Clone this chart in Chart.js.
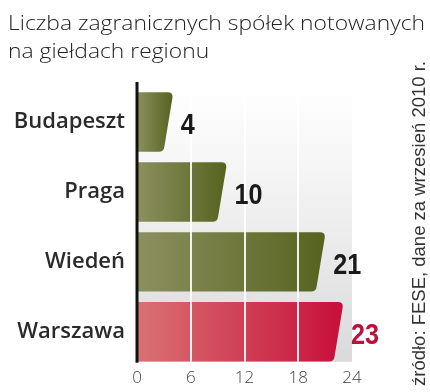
<!DOCTYPE html>
<html>
<head>
<meta charset="utf-8">
<script src="https://cdn.jsdelivr.net/npm/chart.js@4.4.0/dist/chart.umd.min.js"></script>
<style>
  html, body { margin: 0; padding: 0; background: #fff; }
  #wrap { width: 430px; height: 392px; }
</style>
</head>
<body>
<div id="wrap"><canvas id="chart" width="430" height="392"></canvas></div>
<script>
// dane
const categories = ['Budapeszt', 'Praga', 'Wiedeń', 'Warszawa'];
const values = [4, 10, 21, 23];
const highlight = [false, false, false, true];
const tickValues = [0, 6, 12, 18, 24];
const titleLines = ['Liczba zagranicznych spółek notowanych', 'na giełdach regionu'];
const sourceText = 'źródło: FESE, dane za wrzesień 2010 r.';

// kolory
const olive = ['#8c9060', '#56631f'];
const red = ['#d87272', '#c80f3a'];

// tlo panelu, slupki, siatka, os - wszystko rysowane z pozycji elementow chartjs
const panelPlugin = {
    id: 'panel',
    beforeDatasetsDraw(chart) {
        const ctx = chart.ctx;
        const area = chart.chartArea;
        const xs = chart.scales.x;
        const x0 = xs.getPixelForValue(0);
        const x1 = xs.getPixelForValue(24);
        let g = ctx.createLinearGradient(0, area.top, 0, area.bottom);
        g.addColorStop(0, 'rgba(255,255,255,1)');
        g.addColorStop(0.35, '#f3f3f3');
        g.addColorStop(1, '#d9d9d9');
        ctx.save();
        ctx.fillStyle = g;
        ctx.fillRect(x0, area.top, x1 - x0, area.bottom - area.top - 5);
        ctx.restore();
    },
    afterDatasetsDraw(chart) {
        const ctx = chart.ctx;
        const area = chart.chartArea;
        const xs = chart.scales.x;
        const meta = chart.getDatasetMeta(0);
        ctx.save();
        meta.data.forEach((bar, i) => {
            const left = bar.base;
            const right = bar.x;
            const top = bar.y - bar.height / 2;
            const bottom = bar.y + bar.height / 2;
            const slant = 9;
            const r = 5;
            const cols = highlight[i] ? red : olive;
            let g = ctx.createLinearGradient(left, 0, right, 0);
            g.addColorStop(0, cols[0]);
            g.addColorStop(1, cols[1]);
            ctx.fillStyle = g;
            ctx.beginPath();
            ctx.moveTo(left, top);
            ctx.lineTo(right - r, top);
            ctx.quadraticCurveTo(right, top, right - 0.3, top + r);
            ctx.lineTo(right - slant + 0.5, bottom - r);
            ctx.quadraticCurveTo(right - slant, bottom, right - slant - r, bottom);
            ctx.lineTo(left, bottom);
            ctx.closePath();
            ctx.fill();
        });
        // biale linie siatki na wierzchu
        ctx.strokeStyle = 'rgba(255,255,255,0.9)';
        ctx.lineWidth = 2;
        tickValues.slice(1, -1).forEach(v => {
            const x = Math.round(xs.getPixelForValue(v));
            ctx.beginPath();
            ctx.moveTo(x, area.top + 10);
            ctx.lineTo(x, area.bottom - 5);
            ctx.stroke();
        });
        // os pionowa
        const x0 = xs.getPixelForValue(0);
        ctx.strokeStyle = '#111';
        ctx.lineWidth = 3;
        ctx.beginPath();
        ctx.moveTo(x0, area.top - 5);
        ctx.lineTo(x0, area.bottom - 4);
        ctx.stroke();
        // etykiety wartosci (waskie, pogrubione)
        ctx.font = 'bold 30px "Liberation Sans", Arial, sans-serif';
        ctx.textAlign = 'left';
        ctx.textBaseline = 'middle';
        meta.data.forEach((bar, i) => {
            ctx.save();
            ctx.translate(bar.x + 8, bar.y + 4);
            ctx.scale(0.84, 1);
            ctx.fillStyle = highlight[i] ? '#c0103a' : '#1a1a1a';
            ctx.fillText(String(values[i]), 0, 0);
            ctx.restore();
        });
        ctx.restore();
    },
    afterDraw(chart) {
        const ctx = chart.ctx;
        // tytul, rozciagniety do szerokosci oryginalu
        ctx.save();
        ctx.font = '300 21px "Open Sans", sans-serif';
        ctx.fillStyle = '#222';
        ctx.textAlign = 'left';
        ctx.textBaseline = 'alphabetic';
        const sx = 417 / ctx.measureText(titleLines[0]).width;
        titleLines.forEach((line, i) => {
            ctx.save();
            ctx.translate(8, 30 + i * 28);
            ctx.scale(sx, 1);
            ctx.fillText(line, 0, 0);
            ctx.restore();
        });
        ctx.restore();
        // zrodlo, pionowo
        ctx.save();
        ctx.translate(425, 386);
        ctx.rotate(-Math.PI / 2);
        ctx.font = '18.5px "Liberation Sans", Arial, sans-serif';
        ctx.fillStyle = '#333';
        ctx.textAlign = 'left';
        ctx.textBaseline = 'alphabetic';
        ctx.fillText(sourceText, 0, 0);
        ctx.restore();
    }
};

const ctx = document.getElementById('chart').getContext('2d');
const chart = new Chart(ctx, {
    type: 'bar',
    data: {
        labels: categories,
        datasets: [{
            data: values,
            backgroundColor: 'rgba(0,0,0,0)',
            categoryPercentage: 1,
            barPercentage: 0.85
        }]
    },
    options: {
        indexAxis: 'y',
        responsive: false,
        animation: false,
        layout: { padding: { left: 8, right: 78, top: 87, bottom: 0 } },
        plugins: {
            legend: { display: false },
            tooltip: { enabled: false },
            title: { display: false }
        },
        scales: {
            x: {
                min: 0,
                max: 24,
                grid: { display: false, drawTicks: false },
                border: { display: false },
                ticks: {
                    stepSize: 6,
                    color: '#444',
                    padding: 1,
                    font: { family: 'Open Sans', size: 17, weight: 300 }
                },
                afterFit(scale) { scale.height = 23; }
            },
            y: {
                grid: { display: false, drawTicks: false },
                border: { display: false },
                ticks: {
                    color: '#2a2a2a',
                    padding: 12,
                    font: { family: 'Open Sans', size: 22, weight: 600 }
                },
                afterFit(scale) { scale.width = 129; }
            }
        }
    },
    plugins: [panelPlugin]
});
</script>
</body>
</html>
